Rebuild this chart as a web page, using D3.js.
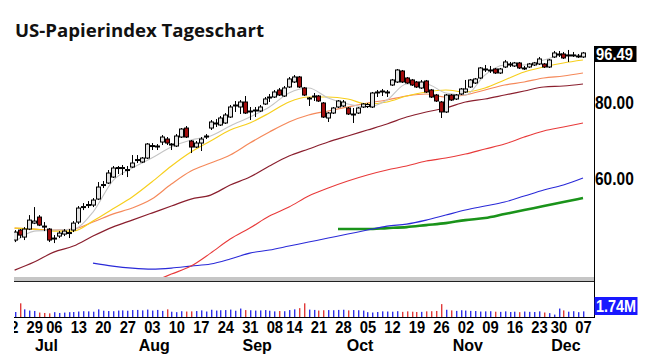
<!DOCTYPE html>
<html><head><meta charset="utf-8">
<script src="https://cdn.jsdelivr.net/npm/d3@7"></script>
<style>body{margin:0;background:#fff;} svg{display:block;}</style>
</head><body>
<svg id="chart" width="648" height="359"></svg>
<script>
// ---------- DATA ----------
const dates = ["06-22","06-23","06-24","06-25","06-26","06-29","06-30",
"07-01","07-02","07-06","07-07","07-08","07-09","07-10","07-13","07-14","07-15","07-16","07-17","07-20","07-21","07-22","07-23","07-24","07-27","07-28","07-29","07-30","07-31",
"08-03","08-04","08-05","08-06","08-07","08-10","08-11","08-12","08-13","08-14","08-17","08-18","08-19","08-20","08-21","08-24","08-25","08-26","08-27","08-28","08-31",
"09-01","09-02","09-03","09-04","09-08","09-09","09-10","09-11","09-14","09-15","09-16","09-17","09-18","09-21","09-22","09-23","09-24","09-25","09-28","09-29","09-30",
"10-01","10-02","10-05","10-06","10-07","10-08","10-09","10-12","10-13","10-14","10-15","10-16","10-19","10-20","10-21","10-22","10-23","10-26","10-27","10-28","10-29","10-30",
"11-02","11-03","11-04","11-05","11-06","11-09","11-10","11-11","11-12","11-13","11-16","11-17","11-18","11-19","11-20","11-23","11-24","11-25","11-27","11-30",
"12-01","12-02","12-03","12-04","12-07"];

const openP = [null,47.53,49.36,48.07,49.55,50.68,51.85,50.11,49.55,47.80,48.25,48.62,48.80,49.36,50.88,53.75,54.16,54.26,55.51,58.42,58.98,60.33,62.31,62.43,61.84,62.66,64.22,63.86,64.83,67.72,67.72,68.88,69.67,68.23,67.85,70.20,72.63,69.15,67.59,68.62,70.33,72.63,73.89,73.47,74.03,75.72,79.10,78.65,80.15,77.32,77.61,77.47,79.55,81.53,81.68,83.88,81.99,84.84,86.46,88.11,84.52,81.22,81.84,81.99,79.85,75.44,76.88,78.65,78.95,78.35,76.45,76.88,78.65,78.80,78.65,83.09,83.40,83.09,85.48,86.46,90.14,87.78,87.12,86.46,84.52,86.79,83.88,82.30,80.15,77.18,82.30,81.07,82.62,83.25,84.84,86.13,87.78,90.65,90.31,90.82,89.46,91.51,92.38,91.86,92.91,91.00,91.51,92.21,92.56,92.56,91.51,95.05,95.95,96.13,95.59,95.59,95.23,95.05];
const highP = [null,49.36,49.55,49.92,52.24,53.85,52.24,50.88,49.73,48.43,49.17,49.55,49.55,51.07,54.06,54.67,55.09,55.72,59.20,59.43,61.96,62.90,62.90,63.14,62.90,65.57,65.57,65.08,68.62,68.62,68.36,70.73,70.20,68.62,71.00,72.63,73.19,69.41,69.15,70.20,71.00,74.87,75.15,76.01,76.88,79.25,80.46,80.76,81.99,78.65,78.65,79.25,81.68,82.62,83.88,84.52,85.16,88.11,88.78,88.45,84.84,81.68,82.93,82.30,80.15,77.18,78.65,80.76,80.76,78.65,78.35,78.65,79.85,79.85,83.25,83.88,84.20,83.88,87.45,90.82,90.48,88.11,87.45,86.79,87.12,87.12,84.20,82.62,80.46,82.62,82.62,82.62,84.52,87.12,87.45,87.78,91.51,92.21,91.86,91.17,91.17,93.97,93.27,93.27,93.27,91.86,92.91,93.27,95.05,92.91,94.33,97.23,97.23,96.86,97.60,96.86,96.13,96.86];
const lowP = [null,47.17,47.89,47.53,49.36,50.49,50.11,49.17,47.17,46.99,47.89,48.25,47.89,48.99,50.49,53.24,53.65,53.85,55.30,57.87,58.76,60.11,61.03,60.80,60.33,62.43,63.62,63.62,64.59,66.83,66.83,68.10,68.10,66.83,67.59,69.94,69.94,66.07,67.34,66.58,69.67,72.09,72.91,73.19,73.75,75.44,77.18,76.59,76.59,74.87,75.72,77.18,79.25,80.15,81.38,81.99,81.68,84.52,86.13,84.52,81.99,78.95,80.46,80.15,75.44,74.31,76.59,78.35,78.65,76.30,74.03,76.59,78.35,78.35,78.35,81.68,81.99,81.68,85.16,86.13,86.13,85.81,85.16,84.52,84.20,82.93,81.38,80.15,75.44,76.88,80.46,80.76,82.30,82.93,84.52,85.81,87.45,89.80,89.46,89.12,89.12,91.17,91.51,91.51,90.82,90.48,91.17,91.86,92.21,91.17,91.17,94.69,95.05,94.33,93.27,95.05,94.69,94.69];
const closeP = [null,48.99,48.43,49.55,51.26,51.07,50.30,49.92,47.53,47.89,48.80,49.17,48.90,50.68,53.65,53.95,54.37,55.30,58.09,58.64,61.26,62.43,62.54,62.54,62.07,63.62,64.46,64.83,68.36,67.97,67.85,70.20,68.62,68.36,70.47,72.36,70.20,67.59,68.62,69.67,70.47,74.31,74.03,75.44,76.30,78.65,79.25,80.15,76.88,77.47,77.76,78.65,81.07,81.68,83.25,82.30,84.52,87.45,88.11,84.84,82.30,81.38,81.99,80.46,75.72,76.88,78.35,80.46,80.15,76.59,76.59,78.35,79.55,79.40,82.93,83.25,83.56,83.25,87.12,90.48,86.46,86.13,85.48,84.84,86.46,83.25,81.68,80.46,77.18,82.30,80.76,82.30,84.20,84.20,87.12,87.45,91.17,90.82,90.48,89.46,90.82,93.27,92.56,92.91,91.17,91.17,92.56,92.91,94.33,91.51,93.97,96.50,96.13,94.69,95.77,95.77,95.41,96.49];
// volume in millions
const volume = [null,0.62,1.70,0.95,0.80,0.75,0.55,
0.50,0.45,0.60,0.50,0.55,0.60,0.62,0.68,0.72,0.70,0.66,0.95,0.78,0.74,0.72,0.80,0.82,0.78,0.86,0.88,0.82,0.92,
0.80,0.88,0.76,0.95,0.66,0.60,0.72,0.68,0.70,0.74,0.82,0.68,0.90,0.80,0.84,0.86,0.92,0.78,1.05,0.86,0.84,
0.80,0.82,0.86,0.78,0.70,0.74,0.72,0.86,0.95,1.10,1.70,0.92,0.88,0.80,0.84,0.86,0.84,0.88,0.90,0.82,0.86,
0.84,0.80,0.60,0.56,0.62,0.70,0.68,0.66,0.72,0.64,0.70,0.66,0.62,0.64,0.70,0.72,0.75,1.60,0.90,0.82,0.76,0.84,
0.80,0.76,0.74,0.68,0.70,0.72,0.66,0.64,0.70,0.62,0.66,0.60,0.68,0.64,0.62,0.70,0.56,0.48,0.30,1.05,
0.82,0.66,0.72,0.60,0.70];

// moving averages
const maDates = ["06-23","06-29","07-06","07-10","07-16","07-22","07-28","08-03","08-07","08-13","08-19","08-25","08-31","09-04","09-11","09-17","09-23","09-29","10-05","10-09","10-15","10-21","10-27","11-02","11-06","11-12","11-18","11-24","12-01","12-07"];
const maGray   = [47.17,49.17,49.36,49.55,52.84,59.43,62.43,64.83,67.59,69.41,70.47,73.19,75.72,78.65,82.93,84.52,81.38,79.55,78.65,80.76,85.81,85.81,82.93,82.30,88.78,92.21,92.21,93.97,95.77,95.77];
const maYellow = [49.73,49.55,49.17,49.17,51.07,53.44,55.93,59.20,62.90,66.32,69.15,72.09,74.03,76.88,80.15,81.68,81.68,81.07,79.55,80.15,81.99,83.25,83.88,83.25,84.52,87.12,89.80,91.51,92.91,93.97];
const maOrange = [49.73,49.55,49.36,49.55,50.88,52.44,53.65,55.51,58.76,61.73,63.62,65.57,68.62,71.54,74.31,76.30,77.47,78.65,79.85,80.76,81.99,82.62,81.68,82.30,83.88,85.48,86.46,87.78,88.45,89.46];
const maMaroon = [42.42,43.73,45.41,46.46,48.25,49.92,51.26,52.64,54.06,55.51,56.35,58.53,60.33,62.90,65.32,67.09,68.88,70.47,72.09,73.75,75.72,77.18,78.35,80.15,81.07,82.30,83.56,84.84,85.16,85.81];
const maBlue   = [null,null,null,null,43.56,43.07,42.74,42.58,42.74,43.07,43.40,44.23,45.24,45.76,46.46,47.17,47.89,48.62,49.36,50.11,50.49,51.26,52.24,53.24,54.06,54.88,56.14,57.44,58.53,60.11];
const redDates = ["08-05","08-07","08-13","08-19","08-25","08-31","09-04","09-11","09-17","09-23","09-29","10-05","10-09","10-15","10-21","10-27","11-02","11-06","11-12","11-18","11-24","12-01","12-07"];
const maRed    = [41.15,41.78,43.07,45.24,47.71,49.73,52.04,53.85,56.14,57.87,59.43,60.80,61.96,62.90,64.10,64.83,65.82,67.09,68.36,70.20,71.82,72.91,74.03];
const greenDates = ["09-25","09-29","10-05","10-09","10-15","10-21","10-27","11-02","11-06","11-12","11-18","11-24","12-01","12-07"];
const maGreen  = [49.55,49.55,49.55,49.73,49.92,50.30,50.68,51.26,51.65,52.44,53.24,54.06,54.88,55.72];

const dayTicks = ["06-22","06-29","07-06","07-13","07-20","07-27","08-03","08-10","08-17","08-24","08-31","09-08","09-14","09-21","09-28","10-05","10-12","10-19","10-26","11-02","11-09","11-16","11-23","11-30","12-07"];
const monthTicks = ["07-01","08-03","09-01","10-01","11-02","12-01"];
const monthNames = ["Jul","Aug","Sep","Oct","Nov","Dec"];
const priceTicks = [60, 80];
const volMaxLabel = 1.74;
const title = "US-Papierindex Tageschart";

// ---------- CHART ----------
const svg = d3.select("#chart");
const idx = new Map(dates.map((d,i)=>[d,i]));
const L = 14, R = 594, PTOP = 40, PBOT = 277, VBASE = 317;

const x = d3.scaleLinear().domain([0, dates.length-1]).range([9.7, 583]);
const y = d3.scaleLog().domain([60, 80]).range([178.5, 102.5]);
const yv = d3.scaleLinear().domain([0, volMaxLabel]).range([VBASE, VBASE-14]);

const defs = svg.append("defs");
defs.append("clipPath").attr("id","clipP").append("rect").attr("x",L).attr("y",PTOP).attr("width",R-L).attr("height",PBOT-PTOP);
defs.append("clipPath").attr("id","clipV").append("rect").attr("x",L).attr("y",283).attr("width",R-L).attr("height",VBASE-283);
defs.append("clipPath").attr("id","clipX").append("rect").attr("x",L).attr("y",VBASE).attr("width",648-L).attr("height",42);

const axFont = "'Liberation Sans', Arial, sans-serif";
function squeeze(sel, f){
  sel.each(function(){ const w = this.getComputedTextLength(); d3.select(this).attr("textLength", w*f).attr("lengthAdjust","spacingAndGlyphs"); });
}

svg.append("text").attr("x",15).attr("y",37).text(title)
  .attr("font-family","'Open Sans', sans-serif").attr("font-weight",700).attr("font-size",17.5).attr("fill","#111")
  .call(s=>s.each(function(){ d3.select(this).attr("textLength",249).attr("lengthAdjust","spacingAndGlyphs"); }));

const gp = svg.append("g").attr("clip-path","url(#clipP)");

function maLine(dArr, vArr, color, width){
  const pts = dArr.map((d,i)=>({i: idx.get(d), v: vArr[i]}));
  const line = d3.line().defined(p=>p.v!=null).x(p=>x(p.i)).y(p=>y(p.v)).curve(d3.curveMonotoneX);
  gp.append("path").datum(pts).attr("d",line).attr("fill","none").attr("stroke",color).attr("stroke-width",width);
}
maLine(greenDates, maGreen, "#1a931a", 2.6);
maLine(maDates, maBlue, "#2a2ad8", 1.1);
maLine(redDates, maRed, "#e83a3a", 1.1);
maLine(maDates, maMaroon, "#8a1f2e", 1.2);
maLine(maDates, maOrange, "#f5895a", 1.2);
maLine(maDates, maYellow, "#f7cf1d", 1.2);
maLine(maDates, maGray, "#c4c4c4", 1.1);

// candles
const cIdx = d3.range(dates.length).filter(i=>openP[i]!=null);
const cg = gp.append("g");
cg.selectAll("line.wick").data(cIdx).join("line")
  .attr("x1",i=>Math.round(x(i))+0.5).attr("x2",i=>Math.round(x(i))+0.5)
  .attr("y1",i=>y(highP[i])).attr("y2",i=>y(lowP[i]))
  .attr("stroke","#000").attr("stroke-width",1);
cg.selectAll("rect.body").data(cIdx).join("rect")
  .attr("x",i=>Math.round(x(i))-1.5).attr("width",4)
  .attr("y",i=>Math.min(y(openP[i]),y(closeP[i])))
  .attr("height",i=>Math.max(1,Math.abs(y(openP[i])-y(closeP[i]))))
  .attr("fill",i=>closeP[i]>=openP[i]?"#e4e4e4":"#a30d0d")
  .attr("stroke","#000").attr("stroke-width",1);

// separator under price panel
svg.append("rect").attr("x",L).attr("y",PBOT).attr("width",R-L).attr("height",4).attr("fill","#c6c6c6");
svg.append("line").attr("x1",L).attr("x2",R).attr("y1",281.5).attr("y2",281.5).attr("stroke","#222").attr("stroke-width",1);

// volume
const gv = svg.append("g").attr("clip-path","url(#clipV)");
gv.selectAll("rect").data(cIdx).join("rect")
  .attr("x",i=>Math.round(x(i))).attr("width",1.4)
  .attr("y",i=>yv(volume[i])).attr("height",i=>VBASE-yv(volume[i]))
  .attr("fill",i=>closeP[i]>=openP[i]?"#3030e8":"#e03a3a");
svg.append("line").attr("x1",L).attr("x2",R).attr("y1",VBASE+0.5).attr("y2",VBASE+0.5).attr("stroke","#000");

// right axis line
svg.append("line").attr("x1",R+0.5).attr("x2",R+0.5).attr("y1",46).attr("y2",VBASE+1).attr("stroke","#000");

// price axis labels
const ay = svg.append("g").attr("transform",`translate(${R},0)`)
  .call(d3.axisRight(y).tickValues(priceTicks).tickFormat(d3.format(".2f")).tickSize(0).tickPadding(1));
ay.select(".domain").remove();
ay.selectAll("text").attr("font-family",axFont).attr("font-weight","bold").attr("font-size",18).attr("fill","#000").call(squeeze,0.86);

// last price box
const last = closeP[closeP.length-1];
const ly = y(last);
svg.append("rect").attr("x",R+0.5).attr("y",ly-7).attr("width",42).attr("height",16).attr("fill","#000");
svg.append("text").attr("x",R+2).attr("y",ly+1).attr("dy","0.35em").text(d3.format(".2f")(last))
  .attr("font-family",axFont).attr("font-weight","bold").attr("font-size",17).attr("fill","#fff").call(squeeze,0.87);

// volume label
const vy = yv(volMaxLabel);
svg.append("rect").attr("x",R+0.5).attr("y",vy-6).attr("width",43).attr("height",18).attr("fill","#1818ff");
svg.append("text").attr("x",R+2).attr("y",vy+3).attr("dy","0.35em").text(volMaxLabel.toFixed(2)+"M")
  .attr("font-family",axFont).attr("font-weight","bold").attr("font-size",17).attr("fill","#fff").call(squeeze,0.85);

// x axis: days
const axWrap = svg.append("g").attr("clip-path","url(#clipX)");
const ax = axWrap.append("g").attr("transform",`translate(0,${VBASE})`)
  .call(d3.axisBottom(x).tickValues(dayTicks.map(d=>idx.get(d))).tickFormat(i=>dates[i].slice(3)).tickSize(0).tickPadding(4.5));
ax.select(".domain").remove();
ax.selectAll("text").attr("font-family",axFont).attr("font-weight","bold").attr("font-size",16).attr("fill","#000").call(squeeze,0.92);

// x axis: months
const am = svg.append("g").attr("transform",`translate(0,${VBASE})`)
  .call(d3.axisBottom(x).tickValues(monthTicks.map(d=>idx.get(d))).tickFormat((i,k)=>monthNames[k]).tickSize(0).tickPadding(22.5));
am.select(".domain").remove();
am.selectAll("text").attr("dx",2).attr("font-family",axFont).attr("font-weight","bold").attr("font-size",16).attr("fill","#000");
</script>
</body></html>
